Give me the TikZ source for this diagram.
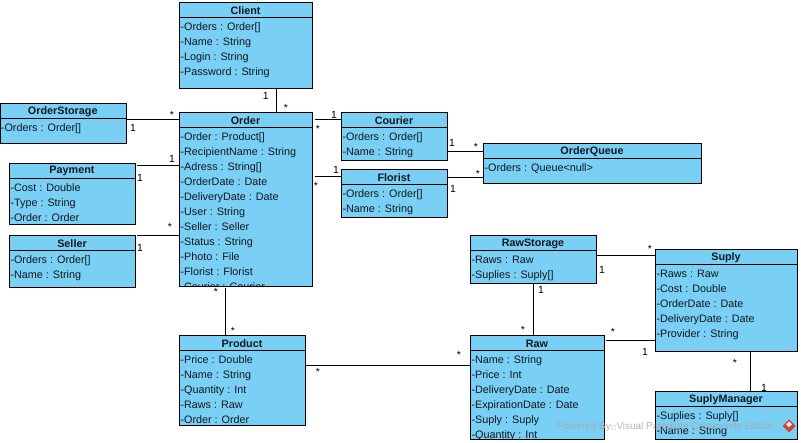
\documentclass[tikz,border=0pt]{standalone}
\usepackage{fontspec}
\setmainfont{Liberation Sans}
\newfontfamily\symfont{DejaVu Sans}
\definecolor{umlfill}{HTML}{7ACFF5}
\definecolor{umlink}{HTML}{101820}
\definecolor{wmgray}{HTML}{A8A8A8}
\definecolor{wmred}{HTML}{D8403C}
\newcommand{\umlclass}[7]{%
  % name, left, top, width, height, title, attributes
  \node[umlbox,minimum width=#4pt,minimum height=#5pt] (#1) at (#2+#4/2,#3+#5/2) {};
  \begin{scope}
    \clip (#1.north west) rectangle (#1.south east);
    \node[attrtext,anchor=north west] (#1attrs) at (#2+1,#3+20.3) {#7};
  \end{scope}
  \draw[umlline] (#1.north west) rectangle (#1.south east);
  \draw[umlline] (#2,#3+15) -- (#2+#4,#3+15);
  \node[titletext] (#1title) at (#2+#4/2-0.5,#3+8) {#6};
}
\newcommand{\mult}[3]{\node[multtext] (#1) at (#2) {#3};}
\tikzset{
  umlbox/.style={rectangle,fill=umlfill,inner sep=0pt,outer sep=0pt},
  umlline/.style={draw=black,line width=0.85pt},
  attrtext/.style={inner sep=0pt,outer sep=0pt,align=left,text=umlink,font=\fontsize{10.8}{15}\selectfont},
  titletext/.style={inner sep=0pt,text=umlink,font=\fontsize{10.8}{12}\selectfont\bfseries},
  multtext/.style={inner sep=0pt,text=black,font=\fontsize{10.4}{12}\selectfont},
  assoc/.style={draw=black,line width=0.85pt},
  wmtext/.style={inner sep=0pt,text=wmgray,font=\fontsize{9.95}{12}\selectfont}
}
\begin{document}
\begin{tikzpicture}[x=1pt,y=-1pt]
\useasboundingbox (0,0) rectangle (801,443);
\umlclass{client}{179.5}{2.5}{133}{85.5}{Client}{-Orders : Order[]\\-Name : String\\-Login : String\\-Password : String}
\umlclass{orderstorage}{0}{103.5}{126.5}{39.5}{OrderStorage}{-Orders : Order[]}
\umlclass{order}{179.5}{112.5}{133}{173.5}{Order}{-Order : Product[]\\-RecipientName : String\\-Adress : String[]\\-OrderDate : Date\\-DeliveryDate : Date\\-User : String\\-Seller : Seller\\-Status : String\\-Photo : File\\-Florist : Florist\\-Courier : Courier}
\umlclass{payment}{9.5}{163}{126}{61.5}{Payment}{-Cost : Double\\-Type : String\\-Order : Order}
\umlclass{seller}{9.5}{235.5}{126}{51.5}{Seller}{-Orders : Order[]\\-Name : String}
\umlclass{product}{179.5}{335.5}{126}{89.5}{Product}{-Price : Double\\-Name : String\\-Quantity : Int\\-Raws : Raw\\-Order : Order}
\umlclass{courier}{341.5}{112.5}{106}{48}{Courier}{-Orders : Order[]\\-Name : String}
\umlclass{florist}{341.5}{169.5}{106}{48}{Florist}{-Orders : Order[]\\-Name : String}
\umlclass{orderqueue}{483.5}{143.5}{218}{39.5}{OrderQueue}{-Orders : Queue<null>}
\umlclass{rawstorage}{470.5}{235.5}{126}{48}{RawStorage}{-Raws : Raw\\-Suplies : Suply[]}
\umlclass{suply}{655.5}{249.5}{142}{102}{Suply}{-Raws : Raw\\-Cost : Double\\-OrderDate : Date\\-DeliveryDate : Date\\-Provider : String}
\umlclass{raw}{470.5}{335.5}{134}{103.5}{Raw}{-Name : String\\-Price : Int\\-DeliveryDate : Date\\-ExpirationDate : Date\\-Suply : Suply\\-Quantity : Int}
\umlclass{suplymanager}{655.5}{391.5}{142}{47.5}{SuplyManager}{-Suplies : Suply[]\\-Name : String}

\draw[assoc] (client.south -| 276.5,0) -- (order.north -| 276.5,0);
\draw[assoc] ([xshift=0.5pt]orderstorage.east |- 0,119) -- (order.west |- 0,119);
\draw[assoc] ([xshift=1.5pt]payment.east |- 0,165) -- (order.west |- 0,165);
\draw[assoc] ([xshift=1.5pt]seller.east |- 0,235) -- (order.west |- 0,235);
\draw[assoc] ([xshift=2pt]order.east |- 0,119) -- (courier.west |- 0,119);
\draw[assoc] ([xshift=2pt]order.east |- 0,176) -- (florist.west |- 0,176);
\draw[assoc] ([yshift=-2pt]order.south -| 225.5,0) -- (product.north -| 225.5,0);
\draw[assoc] ([xshift=0.5pt]product.east |- 0,365.5) -- (raw.west |- 0,365.5);
\draw[assoc] ([xshift=0.5pt]courier.east |- 0,151.3) -- (orderqueue.west |- 0,151.3);
\draw[assoc] ([xshift=0.5pt]florist.east |- 0,177.5) -- (orderqueue.west |- 0,177.5);
\draw[assoc] ([xshift=0.5pt]rawstorage.east |- 0,255.5) -- (suply.west |- 0,255.5);
\draw[assoc] ([yshift=-0.5pt]rawstorage.south -| 533.5,0) -- (raw.north -| 533.5,0);
\draw[assoc] ([xshift=1.5pt]raw.east |- 0,340.5) -- (suply.west |- 0,340.5);
\draw[assoc] (suply.south -| 750,0) -- (suplymanager.north -| 750,0);

\mult{m1}{265.7,95.5}{1}
\mult{m2}{286,107.5}{*}
\mult{m3}{133,127.5}{1}
\mult{m4}{172,115}{*}
\mult{m5}{172,158.5}{1}
\mult{m6}{140,177.5}{1}
\mult{m7}{170,227}{*}
\mult{m8}{140,247.5}{1}
\mult{m9}{334,114.5}{1}
\mult{m10}{318,129}{*}
\mult{m11}{336,169.5}{1}
\mult{m12}{316,186}{*}
\mult{m13}{216,292}{*}
\mult{m14}{233,331}{*}
\mult{m15}{318,372}{*}
\mult{m16}{459,355}{*}
\mult{m17}{452,142.5}{1}
\mult{m18}{476,147}{*}
\mult{m19}{453,188.5}{1}
\mult{m20}{478,174}{*}
\mult{m21}{602,269.5}{1}
\mult{m22}{650,249}{*}
\mult{m23}{541,289.5}{1}
\mult{m24}{523,330}{*}
\mult{m25}{613,332}{*}
\mult{m26}{645,351.5}{1}
\mult{m27}{735,363}{*}
\mult{m28}{764,387.5}{1}

\node[wmtext,anchor=west,text opacity=0.85] (wm) at (557,426.5) {Powered By{\symfont\fontsize{6}{8}\selectfont □}Visual Paradigm Community Edition};
\fill[wmred] (789,419.5) -- (795.5,426) -- (789,432.5) -- (782.5,426) -- cycle;
\fill[white] (789,421.5) -- (791.8,424.3) -- (789,427) -- (786.2,424.3) -- cycle;
\end{tikzpicture}
\end{document}
